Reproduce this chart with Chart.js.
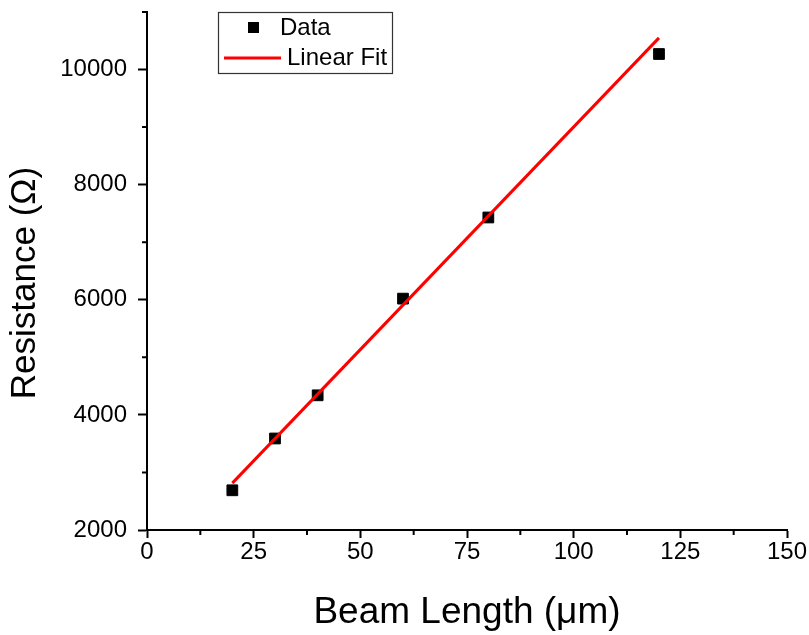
<!DOCTYPE html>
<html>
<head>
<meta charset="utf-8">
<script src="https://cdn.jsdelivr.net/npm/chart.js@4.4.1/dist/chart.umd.min.js"></script>
<style>
  html, body { margin: 0; padding: 0; background: #fff; }
  #wrap { width: 809px; height: 635px; position: relative; }
</style>
</head>
<body>
<div id="wrap"><canvas id="resChart" width="809" height="635"></canvas></div>
<script>
// measured points
const beamLength = [20, 30, 40, 60, 80, 120];
const resistance = [2690, 3590, 4340, 6020, 7430, 10270];

// linear fit end points
const fitLength = [20, 120];
const fitResistance = [2815, 10550];

const xTicks = [0, 25, 50, 75, 100, 125, 150];
const xMinorTicks = [12.5, 37.5, 62.5, 87.5, 112.5, 137.5];
const yTicks = [2000, 4000, 6000, 8000, 10000];
const yMinorTicks = [3000, 5000, 7000, 9000, 11000];

const FONT = "'Liberation Sans', Arial, sans-serif";

// small outward ticks between the labelled ones
const minorTicks = {
    id: 'minorTicks',
    afterDraw(chart) {
        const ctx = chart.ctx;
        const xs = chart.scales.x, ys = chart.scales.y;
        ctx.save();
        ctx.strokeStyle = '#000';
        ctx.lineWidth = 2;
        ctx.beginPath();
        xMinorTicks.forEach(v => {
            const px = xs.getPixelForValue(v);
            ctx.moveTo(px, xs.top);
            ctx.lineTo(px, xs.top + 5);
        });
        yMinorTicks.forEach(v => {
            const py = ys.getPixelForValue(v);
            ctx.moveTo(ys.right, py);
            ctx.lineTo(ys.right - 5, py);
        });
        ctx.stroke();
        ctx.restore();
    }
};

// y title sits a bit below the middle of the axis in the original
const yTitle = {
    id: 'yTitle',
    afterDraw(chart) {
        const ctx = chart.ctx;
        ctx.save();
        ctx.translate(25, 283);
        ctx.rotate(-Math.PI / 2);
        ctx.fillStyle = '#000';
        ctx.font = '35px ' + FONT;
        ctx.textAlign = 'center';
        ctx.textBaseline = 'middle';
        ctx.fillText('Resistance (Ω)', 0, 0);
        ctx.restore();
    }
};

// boxed legend inside the plot, top left
const boxLegend = {
    id: 'boxLegend',
    afterDraw(chart) {
        const ctx = chart.ctx;
        const left = 218, top = 12, w = 174, h = 61;
        ctx.save();
        ctx.fillStyle = '#fff';
        ctx.fillRect(left, top, w, h);
        ctx.strokeStyle = '#333';
        ctx.lineWidth = 1.2;
        ctx.strokeRect(left + 0.5, top + 0.5, w, h);

        ctx.fillStyle = '#000';
        ctx.fillRect(248, 22, 11, 11);
        ctx.strokeStyle = '#ff0000';
        ctx.lineWidth = 3;
        ctx.beginPath();
        ctx.moveTo(224, 58);
        ctx.lineTo(281, 58);
        ctx.stroke();

        ctx.fillStyle = '#000';
        ctx.font = '24px ' + FONT;
        ctx.textBaseline = 'middle';
        ctx.fillText('Data', 280, 28);
        ctx.fillText('Linear Fit', 287, 58);
        ctx.restore();
    }
};

const ctx = document.getElementById('resChart').getContext('2d');

new Chart(ctx, {
    type: 'scatter',
    data: {
        datasets: [
            {
                label: 'Linear Fit',
                type: 'line',
                data: fitLength.map((x, i) => ({ x: x, y: fitResistance[i] })),
                borderColor: '#ff0000',
                borderWidth: 3,
                pointRadius: 0,
                fill: false,
                order: 1
            },
            {
                label: 'Data',
                data: beamLength.map((x, i) => ({ x: x, y: resistance[i] })),
                backgroundColor: '#000',
                borderColor: '#000',
                pointStyle: 'rect',
                pointRadius: 7.6,
                pointHoverRadius: 7.6,
                order: 2
            }
        ]
    },
    options: {
        responsive: false,
        animation: false,
        layout: { padding: { left: 0, right: 22, top: 12, bottom: 0 } },
        plugins: {
            legend: { display: false },
            tooltip: { enabled: false }
        },
        scales: {
            x: {
                type: 'linear',
                min: 0,
                max: 150,
                afterBuildTicks: s => { s.ticks = xTicks.map(v => ({ value: v })); },
                afterFit: s => { s.height = 105; s.paddingLeft = 0; s.paddingRight = 0; },
                border: { display: true, color: '#000', width: 2 },
                grid: { drawOnChartArea: false, drawTicks: true, tickLength: 8, tickWidth: 2, tickColor: '#000' },
                ticks: {
                    color: '#000', padding: 0, maxRotation: 0,
                    font: { family: FONT, size: 24 },
                    callback: v => String(v)
                },
                title: {
                    display: true,
                    text: 'Beam Length (μm)',
                    color: '#000',
                    font: { family: FONT, size: 37 },
                    padding: { top: 0, bottom: 0 }
                }
            },
            y: {
                type: 'linear',
                min: 2000,
                max: 11000,
                afterBuildTicks: s => { s.ticks = yTicks.map(v => ({ value: v })); },
                afterFit: s => { s.width = 147; s.paddingTop = 0; s.paddingBottom = 0; },
                border: { display: true, color: '#000', width: 2 },
                grid: { drawOnChartArea: false, drawTicks: true, tickLength: 9, tickWidth: 2, tickColor: '#000' },
                ticks: {
                    color: '#000', padding: 11,
                    font: { family: FONT, size: 24 },
                    callback: v => String(v)
                }
            }
        }
    },
    plugins: [minorTicks, yTitle, boxLegend]
});
</script>
</body>
</html>
